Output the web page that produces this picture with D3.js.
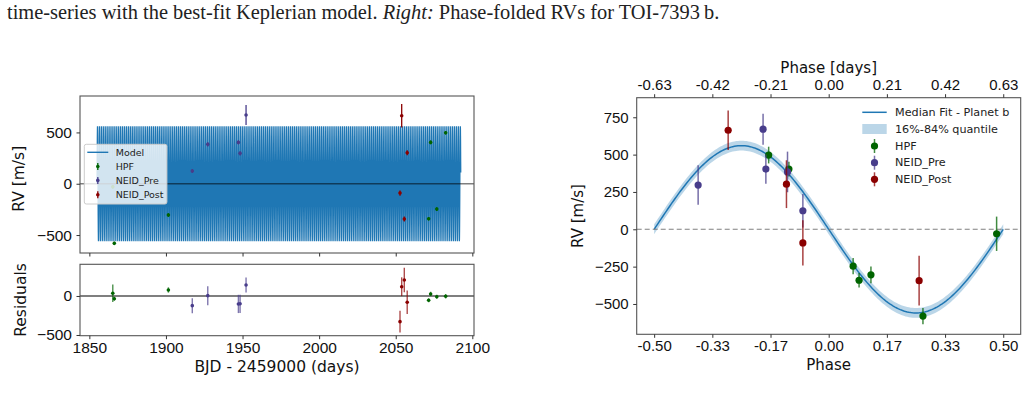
<!DOCTYPE html>
<html>
<head>
<meta charset="utf-8">
<script src="https://cdn.jsdelivr.net/npm/d3@7"></script>
<style>
  body { margin: 0; background: #fff; }
  svg { display: block; font-family: "DejaVu Sans", sans-serif; }
  .axis path { display: none; }
  .axis line { stroke: #333; }
  .axis text { fill: #111; }
</style>
</head>
<body>
<script>
// observations read off the figure
// t: BJD - 2459000, rv / err: time-series panel, res / resErr: residual panel,
// phase / phaseErr: phase-folded panel
const hpfObs = [
  { t: 1865.3, rv: -30,  err: 18, res: 35,  resErr: 111, phase: 0.481,  phaseErr: 115 },
  { t: 1866.3, rv: -581, err: 16, res: -35, resErr: 25,  phase: 0.270,  phaseErr: 54 },
  { t: 1901.6, rv: -305, err: 18, res: 77,  resErr: 34,  phase: 0.121,  phaseErr: 56 },
  { t: 2071.5, rv: -341, err: 18, res: -55, resErr: 25,  phase: 0.087,  phaseErr: 48 },
  { t: 2072.8, rv: 403,  err: 18, res: 26,  resErr: 28,  phase: -0.114, phaseErr: 50 },
  { t: 2076.8, rv: -247, err: 18, res: -9,  resErr: 25,  phase: 0.070,  phaseErr: 54 },
  { t: 2082.6, rv: 497,  err: 18, res: -4,  resErr: 28,  phase: -0.172, phaseErr: 56 }
];
const neidPreObs = [
  { t: 1917.2, rv: 124, err: 20, res: -124, resErr: 96,  phase: -0.074, phaseErr: 112 },
  { t: 1927.3, rv: 384, err: 20, res: 4,    resErr: 122, phase: -0.118, phaseErr: 136 },
  { t: 1947.3, rv: 403, err: 20, res: -102, resErr: 117, phase: -0.180, phaseErr: 98 },
  { t: 1948.4, rv: 296, err: 20, res: -100, resErr: 117, phase: -0.374, phaseErr: 132 },
  { t: 1952.3, rv: 670, err: 97, res: 141,  resErr: 96,  phase: -0.188, phaseErr: 104 }
];
const neidPostObs = [
  { t: 2052.8, rv: -91, err: 25,  res: -329, resErr: 139, phase: -0.074, phaseErr: 151 },
  { t: 2053.9, rv: 663, err: 114, res: 119,  resErr: 120, phase: -0.288, phaseErr: 132 },
  { t: 2055.6, rv: -344, err: 25, res: 205,  resErr: 158, phase: 0.259,  phaseErr: 167 },
  { t: 2057.5, rv: 302, err: 25,  res: -81,  resErr: 150, phase: -0.121, phaseErr: 160 }
];
const instrumentNames = ['HPF', 'NEID_Pre', 'NEID_Post'];

// best-fit Keplerian (circular) model
const modelK = 560;          // m/s
const modelPeriod = 1.26;    // days
const modelT0 = 1855.0;
const modelStart = 1855.0;
const modelEnd = 2092.5;
const quantileHalfWidth = 33; // m/s, 16%-84% band

// axis ticks
const timeTicks = [1850, 1900, 1950, 2000, 2050, 2100];
const rvTicks = [-500, 0, 500];
const residualTicks = [-500, 0];
const phaseRvTicks = [-500, -250, 0, 250, 500, 750];
const phaseTicks = [-0.5, -1 / 3, -1 / 6, 0, 1 / 6, 1 / 3, 0.5];
const phaseTickLabels = ['-0.50', '-0.33', '-0.17', '0.00', '0.17', '0.33', '0.50'];
const daysTickLabels = ['-0.63', '-0.42', '-0.21', '0.00', '0.21', '0.42', '0.63'];

window.onload = function () {

  const COLORS = { HPF: '#006400', NEID_Pre: '#483d8b', NEID_Post: '#8b0000', model: '#1f77b4' };
  const DATA = { HPF: hpfObs, NEID_Pre: neidPreObs, NEID_Post: neidPostObs };

  function getDimensions() {
    return {
      width: 1028,
      height: 401,
      top: { x0: 80, x1: 474, y0: 96, y1: 253 },
      res: { x0: 80, x1: 474, y0: 264.3, y1: 335.7 },
      phase: { x0: 636.7, x1: 1020.7, y0: 97.7, y1: 334.3 }
    }
  }

  const DM = getDimensions();
  const SVG = d3.select('body').append('svg')
                .attr('width', DM.width)
                .attr('height', DM.height);

  function frame(box) {
    SVG.append('rect')
       .attr('x', box.x0).attr('y', box.y0)
       .attr('width', box.x1 - box.x0).attr('height', box.y1 - box.y0)
       .attr('fill', 'none').attr('stroke', '#555').attr('stroke-width', 1.1);
  }

  function caption() {
    const txt = SVG.append('text')
                   .attr('x', 7).attr('y', 18.5)
                   .style('font-family', '"Liberation Serif", serif')
                   .style('font-size', '18px')
                   .attr('fill', '#222');
    txt.append('tspan').text('time-series with the best-fit Keplerian model. ');
    txt.append('tspan').style('font-style', 'italic').text('Right:');
    txt.append('tspan').text(' Phase-folded RVs for TOI-7393\u2009b.');
    const len = txt.node().getComputedTextLength();
    txt.style('font-size', (18 * 713 / len) + 'px');
  }

  function timeSeries() {
    const x = d3.scaleLinear().domain([1843.9, 2101.1]).range([DM.top.x0, DM.top.x1]);
    const y = d3.scaleLinear().domain([-675, 855]).range([DM.top.y1, DM.top.y0]);
    const yr = d3.scaleLinear().domain([-509, 406]).range([DM.res.y1, DM.res.y0]);

    // dense model curve
    const modelPts = [];
    const step = modelPeriod / 32;
    for (let t = modelStart; t <= modelEnd; t += step) {
      modelPts.push([t, modelK * Math.sin(2 * Math.PI * (t - modelT0) / modelPeriod)]);
    }
    SVG.append('path')
       .datum(modelPts)
       .attr('d', d3.line().x(d => x(d[0])).y(d => y(d[1])))
       .attr('fill', 'none')
       .attr('stroke', COLORS.model)
       .attr('stroke-width', 1.2);

    SVG.append('line')
       .attr('x1', DM.top.x0).attr('x2', DM.top.x1)
       .attr('y1', y(0)).attr('y2', y(0))
       .attr('stroke', '#000').attr('stroke-opacity', 0.5).attr('stroke-width', 1.5);

    instrumentNames.forEach(name => {
      const g = SVG.append('g');
      g.selectAll('line').data(DATA[name]).join('line')
       .attr('x1', d => x(d.t)).attr('x2', d => x(d.t))
       .attr('y1', d => y(d.rv - d.err)).attr('y2', d => y(d.rv + d.err))
       .attr('stroke', COLORS[name]).attr('stroke-width', 1.3);
      g.selectAll('circle').data(DATA[name]).join('circle')
       .attr('cx', d => x(d.t)).attr('cy', d => y(d.rv)).attr('r', 1.8)
       .attr('fill', COLORS[name]);
    });

    frame(DM.top);

    SVG.append('g').attr('class', 'axis')
       .attr('transform', `translate(${DM.top.x0},0)`)
       .call(d3.axisLeft(y).tickValues(rvTicks).tickSize(3.5).tickPadding(4.5))
       .selectAll('text').style('font-size', '15.5px');
    SVG.append('g').attr('class', 'axis')
       .attr('transform', `translate(0,${DM.top.y1})`)
       .call(d3.axisBottom(x).tickValues(timeTicks).tickSize(3.5).tickFormat(''));

    // legend
    const lg = SVG.append('g');
    lg.append('rect')
      .attr('x', 84.3).attr('y', 144.3).attr('width', 82.6).attr('height', 59.7)
      .attr('rx', 2).attr('fill', '#fff').attr('fill-opacity', 0.8)
      .attr('stroke', '#ccc').attr('stroke-width', 1);
    const rows = [152.3, 166.5, 180.4, 194.7];
    lg.append('line').attr('x1', 87.3).attr('x2', 108.3)
      .attr('y1', rows[0]).attr('y2', rows[0])
      .attr('stroke', COLORS.model).attr('stroke-width', 1.4);
    instrumentNames.forEach((name, i) => {
      lg.append('line').attr('x1', 97.8).attr('x2', 97.8)
        .attr('y1', rows[i + 1] - 3.5).attr('y2', rows[i + 1] + 3.5)
        .attr('stroke', COLORS[name]).attr('stroke-width', 1.3);
      lg.append('circle').attr('cx', 97.8).attr('cy', rows[i + 1]).attr('r', 1.8)
        .attr('fill', COLORS[name]);
    });
    ['Model'].concat(instrumentNames).forEach((label, i) => {
      lg.append('text').attr('x', 115.7).attr('y', rows[i])
        .attr('dominant-baseline', 'central')
        .style('font-size', '9.5px').attr('fill', '#222').text(label);
    });

    // residuals
    SVG.append('line')
       .attr('x1', DM.res.x0).attr('x2', DM.res.x1)
       .attr('y1', yr(0)).attr('y2', yr(0))
       .attr('stroke', '#000').attr('stroke-width', 1.1);
    instrumentNames.forEach(name => {
      const g = SVG.append('g');
      g.selectAll('line').data(DATA[name]).join('line')
       .attr('x1', d => x(d.t)).attr('x2', d => x(d.t))
       .attr('y1', d => yr(d.res - d.resErr)).attr('y2', d => yr(d.res + d.resErr))
       .attr('stroke', COLORS[name]).attr('stroke-opacity', 0.7).attr('stroke-width', 1.4);
      g.selectAll('circle').data(DATA[name]).join('circle')
       .attr('cx', d => x(d.t)).attr('cy', d => yr(d.res)).attr('r', 1.8)
       .attr('fill', COLORS[name]);
    });
    frame(DM.res);

    SVG.append('g').attr('class', 'axis')
       .attr('transform', `translate(${DM.res.x0},0)`)
       .call(d3.axisLeft(yr).tickValues(residualTicks).tickSize(3.5).tickPadding(4.5))
       .selectAll('text').style('font-size', '15.5px');
    SVG.append('g').attr('class', 'axis')
       .attr('transform', `translate(0,${DM.res.y1})`)
       .call(d3.axisBottom(x).tickValues(timeTicks).tickSize(3.5).tickPadding(3).tickFormat(d3.format('d')))
       .selectAll('text').style('font-size', '15.5px');

    SVG.append('text')
       .attr('transform', 'translate(23.5,178.8) rotate(-90)')
       .attr('text-anchor', 'middle').style('font-size', '15.5px').attr('fill', '#111')
       .text('RV [m/s]');
    SVG.append('text')
       .attr('transform', 'translate(25.5,300) rotate(-90)')
       .attr('text-anchor', 'middle').style('font-size', '15.5px').attr('fill', '#111')
       .text('Residuals');
    SVG.append('text')
       .attr('x', (DM.res.x0 + DM.res.x1) / 2).attr('y', 372)
       .attr('text-anchor', 'middle').style('font-size', '15.5px').attr('fill', '#111')
       .text('BJD - 2459000 (days)');
  }

  function phaseFolded() {
    const x = d3.scaleLinear().domain([-0.55, 0.55]).range([DM.phase.x0, DM.phase.x1]);
    const y = d3.scaleLinear().domain([-703, 881]).range([DM.phase.y1, DM.phase.y0]);

    const fitPts = d3.range(0, 201).map(i => {
      const p = -0.5 + i / 200;
      return [p, -modelK * Math.sin(2 * Math.PI * p)];
    });
    SVG.append('path')
       .datum(fitPts)
       .attr('d', d3.area().x(d => x(d[0]))
                 .y0(d => y(d[1] - quantileHalfWidth)).y1(d => y(d[1] + quantileHalfWidth)))
       .attr('fill', COLORS.model).attr('fill-opacity', 0.3);
    SVG.append('path')
       .datum(fitPts)
       .attr('d', d3.line().x(d => x(d[0])).y(d => y(d[1])))
       .attr('fill', 'none').attr('stroke', COLORS.model).attr('stroke-width', 1.5);

    SVG.append('line')
       .attr('x1', DM.phase.x0).attr('x2', DM.phase.x1)
       .attr('y1', y(0)).attr('y2', y(0))
       .attr('stroke', '#808080').attr('stroke-width', 1.1).attr('stroke-dasharray', '5,3');

    instrumentNames.forEach(name => {
      const g = SVG.append('g');
      g.selectAll('line').data(DATA[name]).join('line')
       .attr('x1', d => x(d.phase)).attr('x2', d => x(d.phase))
       .attr('y1', d => y(d.rv - d.phaseErr)).attr('y2', d => y(d.rv + d.phaseErr))
       .attr('stroke', COLORS[name]).attr('stroke-opacity', 0.75).attr('stroke-width', 1.5);
      g.selectAll('circle').data(DATA[name]).join('circle')
       .attr('cx', d => x(d.phase)).attr('cy', d => y(d.rv)).attr('r', 3.6)
       .attr('fill', COLORS[name]);
    });

    frame(DM.phase);

    SVG.append('g').attr('class', 'axis')
       .attr('transform', `translate(${DM.phase.x0},0)`)
       .call(d3.axisLeft(y).tickValues(phaseRvTicks).tickSize(3.5).tickPadding(4.5))
       .selectAll('text').style('font-size', '15px');
    SVG.append('g').attr('class', 'axis')
       .attr('transform', `translate(0,${DM.phase.y1})`)
       .call(d3.axisBottom(x).tickValues(phaseTicks).tickSize(3.5).tickPadding(3)
                .tickFormat((d, i) => phaseTickLabels[i]))
       .selectAll('text').style('font-size', '15px');
    SVG.append('g').attr('class', 'axis')
       .attr('transform', `translate(0,${DM.phase.y0})`)
       .call(d3.axisTop(x).tickValues(phaseTicks).tickSize(3.5).tickPadding(4)
                .tickFormat((d, i) => daysTickLabels[i]))
       .selectAll('text').style('font-size', '15px');

    SVG.append('text')
       .attr('x', (DM.phase.x0 + DM.phase.x1) / 2).attr('y', 73)
       .attr('text-anchor', 'middle').style('font-size', '15px').attr('fill', '#111')
       .text('Phase [days]');
    SVG.append('text')
       .attr('x', (DM.phase.x0 + DM.phase.x1) / 2).attr('y', 369.5)
       .attr('text-anchor', 'middle').style('font-size', '15px').attr('fill', '#111')
       .text('Phase');
    SVG.append('text')
       .attr('transform', `translate(583,${(DM.phase.y0 + DM.phase.y1) / 2}) rotate(-90)`)
       .attr('text-anchor', 'middle').style('font-size', '15px').attr('fill', '#111')
       .text('RV [m/s]');

    // legend
    const lg = SVG.append('g');
    const rows = [112.3, 129, 146, 162.7, 179.3];
    lg.append('line').attr('x1', 862.3).attr('x2', 886.7)
      .attr('y1', rows[0]).attr('y2', rows[0])
      .attr('stroke', COLORS.model).attr('stroke-width', 1.5);
    lg.append('rect').attr('x', 862.3).attr('y', rows[1] - 5).attr('width', 24.4).attr('height', 10)
      .attr('fill', COLORS.model).attr('fill-opacity', 0.3);
    instrumentNames.forEach((name, i) => {
      lg.append('line').attr('x1', 874.5).attr('x2', 874.5)
        .attr('y1', rows[i + 2] - 7).attr('y2', rows[i + 2] + 7)
        .attr('stroke', COLORS[name]).attr('stroke-opacity', 0.75).attr('stroke-width', 1.5);
      lg.append('circle').attr('cx', 874.5).attr('cy', rows[i + 2]).attr('r', 3.6)
        .attr('fill', COLORS[name]);
    });
    ['Median Fit - Planet b', '16%-84% quantile'].concat(instrumentNames).forEach((label, i) => {
      lg.append('text').attr('x', 895).attr('y', rows[i])
        .attr('dominant-baseline', 'central')
        .style('font-size', '11.2px').attr('fill', '#222').text(label);
    });
  }

  caption();
  timeSeries();
  phaseFolded();
}
</script>
</body>
</html>
